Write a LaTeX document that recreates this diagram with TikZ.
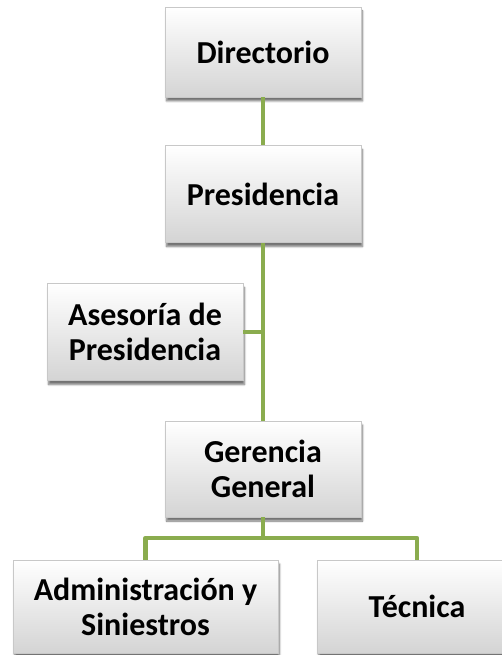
\documentclass[tikz,border=0pt]{standalone}
\usepackage{fontspec}
\setmainfont{Carlito}
\usetikzlibrary{shadows,shadows.blur}
\definecolor{linegreen}{RGB}{138,172,78}
\definecolor{boxbottom}{RGB}{212,212,212}
\definecolor{boxedge}{RGB}{200,200,200}
\tikzset{
  orgbox/.style={rectangle, draw=boxedge, line width=0.5pt,
    top color=white, bottom color=boxbottom,
    blur shadow={shadow xshift=1.5pt, shadow yshift=-4pt, shadow blur steps=6, shadow opacity=55},
    font=\fontsize{32}{35}\selectfont\bfseries, align=center, inner sep=0pt},
  link/.style={draw=linegreen, line width=4.5pt, line join=round}
}
\begin{document}
\begin{tikzpicture}[x=1pt,y=-1pt]
\useasboundingbox (0,0) rectangle (502,655);
\node[orgbox, minimum width=196pt, minimum height=90pt] (dir) at (263,52) {Directorio};
\node[orgbox, minimum width=196pt, minimum height=97pt] (pres) at (263,194) {Presidencia};
\node[orgbox, minimum width=196pt, minimum height=97pt] (ases) at (145,332) {Asesoría de\\Presidencia};
\node[orgbox, minimum width=196pt, minimum height=96pt] (ger) at (263,469) {Gerencia\\General};
\node[orgbox, minimum width=265pt, minimum height=93pt] (adm) at (145.5,606.5) {Administración y\\Siniestros};
\node[orgbox, minimum width=200pt, minimum height=93pt] (tec) at (417,606.5) {Técnica};
\coordinate (jas) at (263,332);
\coordinate (jb) at (263,538);
\coordinate (jl) at (adm.north |- jb);
\coordinate (jr) at (tec.north |- jb);
\draw[link] (dir.south) -- (pres.north);
\draw[link] (pres.south) -- (ger.north);
\draw[link] (ases.east) -- (jas);
\draw[link] (ger.south) -- (jb);
\draw[link] (adm.north) -- (jl) -- (jr) -- (tec.north);
\end{tikzpicture}
\end{document}
